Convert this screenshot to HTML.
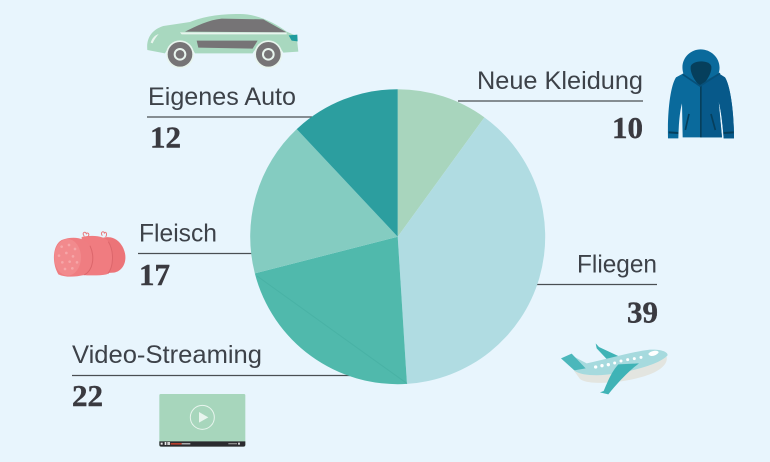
<!DOCTYPE html>
<html lang="de">
<head>
<meta charset="utf-8">
<title>Pie chart</title>
<style>
html,body{margin:0;padding:0;background:#e8f5fd;}
svg{display:block;}
.lab{font-family:"Liberation Sans",sans-serif;font-size:25px;fill:#3d4249;}
.num{font-family:"Liberation Serif",serif;font-weight:bold;font-size:31px;fill:#3a3a40;stroke:#3a3a40;stroke-width:0.4;}
.rule{stroke:#4a4f53;stroke-width:1.2;}
</style>
</head>
<body>
<svg id="chart" xmlns="http://www.w3.org/2000/svg" width="770" height="462" viewBox="0 0 770 462">
<rect width="770" height="462" fill="#e8f5fd"/>

<line class="rule" x1="458" y1="101" x2="643" y2="101"/>
<line class="rule" x1="530" y1="284.5" x2="657" y2="284.5"/>
<line class="rule" x1="72" y1="375.5" x2="350" y2="375.5"/>
<line class="rule" x1="138" y1="253.5" x2="256" y2="253.5"/>
<line class="rule" x1="147" y1="117" x2="312" y2="117"/>

<g id="pie"></g>
<line x1="257" y1="276" x2="407" y2="383.5" stroke="#49b2a5" stroke-width="1"/>

<text class="lab" x="477" y="89" textLength="166" lengthAdjust="spacingAndGlyphs">Neue Kleidung</text>
<text id="v0" class="num" x="643" y="138" text-anchor="end"></text>
<text class="lab" x="577" y="272.5" textLength="80" lengthAdjust="spacingAndGlyphs">Fliegen</text>
<text id="v1" class="num" x="658" y="322.5" text-anchor="end"></text>
<text class="lab" x="72" y="363" textLength="190" lengthAdjust="spacingAndGlyphs">Video-Streaming</text>
<text id="v2" class="num" x="72" y="406"></text>
<text class="lab" x="139" y="241.5" textLength="78" lengthAdjust="spacingAndGlyphs">Fleisch</text>
<text id="v3" class="num" x="139" y="285"></text>
<text class="lab" x="148" y="105" textLength="148" lengthAdjust="spacingAndGlyphs">Eigenes Auto</text>
<text id="v4" class="num" x="150" y="147.5"></text>

<!-- car -->
<g transform="translate(130,0) scale(0.3333)">
  <path d="M52 150C48 112 68 88 100 78L180 66C220 50 265 42 330 42C385 42 440 72 470 95L500 108L505 155L460 158C445 125 385 125 368 160L195 160C180 125 120 125 105 160Z" fill="#a8d8bf"/>
  <path d="M165 95C200 78 235 60 275 56L400 58L470 97Z" fill="#767476"/>
  <path d="M150 97L470 97L470 103L155 103Z" fill="#e8f5ee"/>
  <path d="M200 122L383 122L368 146L205 143Z" fill="#767476"/>
  <path d="M476 106L502 104L503 124L485 122Z" fill="#1f9c9e"/>
  <path d="M62 128C66 115 74 106 86 102C78 112 72 120 68 130Z" fill="#e8f5ee"/>
  <circle cx="150" cy="163" r="42" fill="#e8f5ee"/>
  <circle cx="150" cy="163" r="37" fill="#767476"/>
  <circle cx="150" cy="163" r="19" fill="#e8f5ee"/>
  <circle cx="150" cy="163" r="13" fill="#767476"/>
  <circle cx="415" cy="163" r="42" fill="#e8f5ee"/>
  <circle cx="415" cy="163" r="37" fill="#767476"/>
  <circle cx="415" cy="163" r="19" fill="#e8f5ee"/>
  <circle cx="415" cy="163" r="13" fill="#767476"/>
</g>

<!-- jacket -->
<g transform="translate(660,40) scale(0.3333)">
  <path d="M70 100C58 60 88 28 122 28C158 28 188 62 176 100L195 112C210 135 222 210 222 295L191 295C188 255 184 215 176 185L186 292L68 292L66 190C58 220 56 260 55 295L24 295C22 220 30 140 48 112Z" fill="#0a6a9c"/>
  <path d="M122 130L176 100L195 112C210 135 222 210 222 295L191 295C188 255 184 215 176 185L186 292L122 292Z" fill="#07598a"/>
  <path d="M92 80C96 60 150 58 154 80C156 100 138 128 122 138C106 128 90 100 92 80Z" fill="#063f5c"/>
  <path d="M120 136L125 136L125 292L120 292Z" fill="#063f5c"/>
  <path d="M68 103L120 138L180 100" fill="none" stroke="#075079" stroke-width="5"/>
  <path d="M87 222L76 270" stroke="#063f5c" stroke-width="5" fill="none"/>
  <path d="M153 222L166 270" stroke="#063f5c" stroke-width="5" fill="none"/>
  <path d="M26 274L55 276L55 282L26 280Z M191 276L221 274L221 280L191 282Z" fill="#063f5c"/>
</g>

<!-- plane -->
<g transform="translate(555,335) scale(0.3333)">
  <path d="M56 106C120 122 240 110 335 65C340 90 310 112 260 126C200 144 100 152 75 132Z" fill="#e3e5e0"/>
  <path d="M122 25L132 36L205 70L155 72L125 40Z" fill="#3fb3b6"/>
  <path d="M44 58L95 85C160 72 230 50 285 44C320 42 342 52 337 62C312 88 240 106 180 116C130 124 80 122 60 108Z" fill="#a6dade"/>
  <path d="M18 70L50 56L92 100L58 106Z" fill="#4bb7bb"/>
  <path d="M190 88L252 85C225 105 190 140 160 178L135 172L146 168C160 135 170 110 190 88Z" fill="#3fb3b6"/>
  <path d="M280 57C285 47 310 44 311 52C305 62 285 68 280 57Z" fill="#ffffff"/>
  <g fill="#ffffff">
    <circle cx="122" cy="96" r="5"/><circle cx="141" cy="92" r="5"/><circle cx="160" cy="89" r="5"/>
    <circle cx="179" cy="84" r="4.5"/><circle cx="198" cy="78" r="4.5"/><circle cx="218" cy="74" r="4.5"/>
    <circle cx="238" cy="71" r="4.5"/><circle cx="258" cy="67" r="4.5"/>
  </g>
</g>

<!-- sausage -->
<g transform="translate(45,225) scale(0.3333)">
  <path d="M175 38C205 30 232 50 240 85C246 115 230 140 205 143L170 145Z" fill="#ec7478"/>
  <path d="M110 36C140 30 180 30 195 55C210 85 205 130 185 148C165 152 135 152 110 150Z" fill="#f07c80"/>
  <path d="M190 50C208 80 206 125 188 147" fill="none" stroke="#dc666b" stroke-width="3"/>
  <path d="M50 45C85 32 120 38 135 62C150 95 145 135 118 150C90 156 62 158 40 148C20 115 22 60 50 45Z" fill="#ef7d81"/>
  <path d="M135 62C150 95 145 135 118 150" fill="none" stroke="#dc666b" stroke-width="3"/>
  <ellipse cx="68" cy="97" rx="40" ry="55" fill="#f28a8d"/>
  <g fill="#f6a6a8">
    <circle cx="50" cy="65" r="4"/><circle cx="72" cy="60" r="4"/><circle cx="90" cy="72" r="4"/>
    <circle cx="42" cy="92" r="4"/><circle cx="64" cy="84" r="4"/><circle cx="84" cy="94" r="4"/>
    <circle cx="52" cy="112" r="4"/><circle cx="74" cy="110" r="4"/><circle cx="96" cy="112" r="4"/>
    <circle cx="60" cy="132" r="4"/><circle cx="82" cy="130" r="4"/>
  </g>
  <path d="M118 34C108 22 122 18 124 26C128 20 136 28 128 36" fill="none" stroke="#e8777b" stroke-width="3"/>
  <path d="M172 32C164 22 176 16 178 24C182 18 188 26 182 36" fill="none" stroke="#e8777b" stroke-width="3"/>
</g>

<!-- video -->
<g transform="translate(155,390) scale(0.3333)">
  <rect x="13" y="12" width="258" height="158" rx="4" fill="#a7d6bc"/>
  <circle cx="142" cy="82" r="36" fill="none" stroke="#e8f5ee" stroke-width="3"/>
  <path d="M132 66L160 82L132 98Z" fill="#e8f5ee"/>
  <path d="M13 154H271V164Q271 170 265 170H19Q13 170 13 164Z" fill="#2b2b2f"/>
  <rect x="47" y="159" width="33" height="5" fill="#b8402f"/>
  <rect x="80" y="160" width="26" height="3" fill="#e8e8e8"/>
  <rect x="17" y="158" width="6" height="6" fill="#e8e8e8"/>
  <rect x="29" y="156" width="5" height="9" fill="#e8e8e8"/>
  <rect x="37" y="156" width="8" height="9" fill="#d0d0d0"/>
  <rect x="220" y="159" width="26" height="4" fill="#8a8a8a"/>
  <rect x="249" y="158" width="6" height="6" fill="#d0d0d0"/>
</g>

<script>
const categories = ["Neue Kleidung", "Fliegen", "Video-Streaming", "Fleisch", "Eigenes Auto"];
const seriesValues = [10, 39, 22, 17, 12];
const sliceColors = ["#a8d5bd", "#b0dce2", "#50b9ac", "#84ccc1", "#2c9e9f"];

const NS = "http://www.w3.org/2000/svg";
const cx = 397.7, cy = 236.7, radius = 147.5;
const total = seriesValues.reduce(function (a, b) { return a + b; }, 0);
function angleFor(v) { return v / total * Math.PI * 2; }
function px(a) { return cx + radius * Math.sin(a); }
function py(a) { return cy - radius * Math.cos(a); }

const pie = document.getElementById("pie");
let start = 0;
seriesValues.forEach(function (v, i) {
  const end = start + angleFor(v);
  const large = end - start > Math.PI ? 1 : 0;
  const p = document.createElementNS(NS, "path");
  p.setAttribute("d", "M" + cx + " " + cy + "L" + px(start) + " " + py(start) +
    "A" + radius + " " + radius + " 0 " + large + " 1 " + px(end) + " " + py(end) + "Z");
  p.setAttribute("fill", sliceColors[i]);
  
  
  pie.appendChild(p);
  const label = document.getElementById("v" + i);
  label.textContent = String(v);
  start = end;
});
</script>
</svg>
</body>
</html>
